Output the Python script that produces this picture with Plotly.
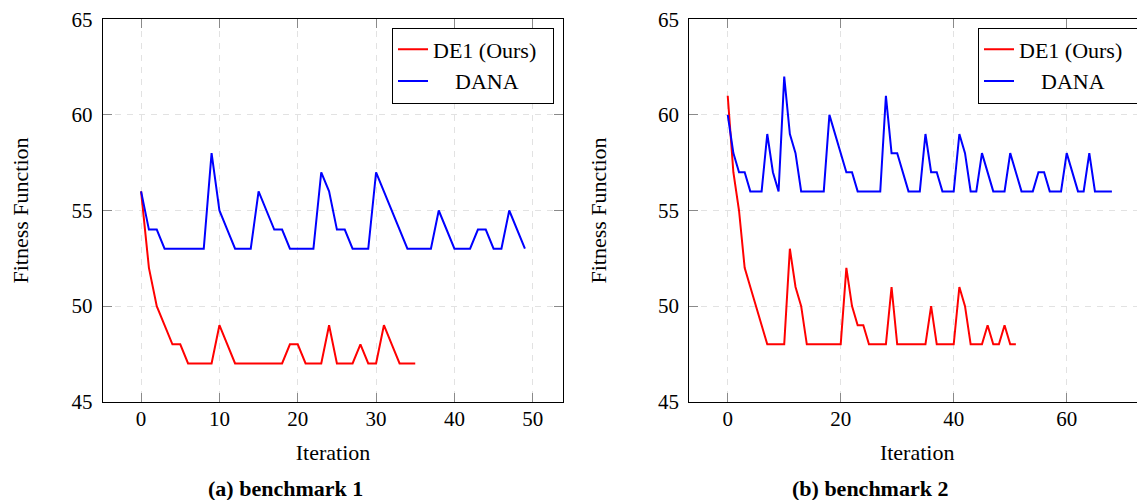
import plotly.graph_objects as go

# ---------------- data ----------------
de1_b1 = [56, 52, 50, 49, 48, 48, 47, 47, 47, 47, 49, 48, 47, 47, 47, 47, 47, 47,
          47, 48, 48, 47, 47, 47, 49, 47, 47, 47, 48, 47, 47, 49, 48, 47, 47, 47]
dana_b1 = [56, 54, 54, 53, 53, 53, 53, 53, 53, 58, 55, 54, 53, 53, 53, 56, 55, 54,
           54, 53, 53, 53, 53, 57, 56, 54, 54, 53, 53, 53, 57, 56, 55, 54, 53, 53,
           53, 53, 55, 54, 53, 53, 53, 54, 54, 53, 53, 55, 54, 53]
de1_b2 = [61, 57, 55, 52, 51, 50, 49, 48, 48, 48, 48, 53, 51, 50, 48, 48, 48, 48,
          48, 48, 48, 52, 50, 49, 49, 48, 48, 48, 48, 51, 48, 48, 48, 48, 48, 48,
          50, 48, 48, 48, 48, 51, 50, 48, 48, 48, 49, 48, 48, 49, 48, 48]
dana_b2 = [60, 58, 57, 57, 56, 56, 56, 59, 57, 56, 62, 59, 58, 56, 56, 56, 56, 56,
           60, 59, 58, 57, 57, 56, 56, 56, 56, 56, 61, 58, 58, 57, 56, 56, 56, 59,
           57, 57, 56, 56, 56, 59, 58, 56, 56, 58, 57, 56, 56, 56, 58, 57, 56, 56,
           56, 57, 57, 56, 56, 56, 58, 57, 56, 56, 58, 56, 56, 56, 56]

series_names = ["DE1 (Ours)\u00a0\u00a0", "\u00a0\u00a0\u00a0\u00a0DANA"]
series_colors = ["#ff0000", "#0000ff"]
x_ticks_b1 = [0, 10, 20, 30, 40, 50]
x_ticks_b2 = [0, 20, 40, 60]
y_ticks = [45, 50, 55, 60, 65]
captions = ["<b>(a) benchmark 1</b>", "<b>(b) benchmark 2</b>"]

# ---------------- layout helpers ----------------
OFF = 8                      # default page margin of the html body
W, H = 1145 - OFF, 500 - OFF
FONT = "Liberation Serif"
FS_TICK = 21
FS = 22


def fx(p):
    return (p - OFF) / W


def fy(p):
    return 1 - (p - OFF) / H


fig = go.Figure()

for i, (ys, ax) in enumerate([(de1_b1, "1"), (dana_b1, "1"), (de1_b2, "2"), (dana_b2, "2")]):
    k = i % 2
    fig.add_trace(go.Scatter(
        x=list(range(len(ys))), y=ys, mode="lines",
        line=dict(color=series_colors[k], width=2),
        name=series_names[k],
        xaxis="x" if ax == "1" else "x2",
        yaxis="y" if ax == "1" else "y2",
        legend="legend" if ax == "1" else "legend2",
    ))

common = dict(
    showline=True, linecolor="black", linewidth=1,
    ticks="inside", ticklen=9, tickcolor="#8a8a8a", tickwidth=1,
    showgrid=True, gridcolor="#e2e2e2", gridwidth=1, griddash="6px,6px",
    zeroline=False,
    tickfont=dict(family=FONT, size=FS_TICK, color="black"),
    automargin=False,
    ticklabeloverflow="allow",
)
xcommon = dict(common, ticklabelstandoff=-2)
ycommon = dict(common, ticklabelstandoff=5)

ydom = [fy(401.7), fy(19.3)]

fig.update_layout(
    width=W, height=H,
    margin=dict(l=0, r=0, t=0, b=0),
    paper_bgcolor="white", plot_bgcolor="white",
    font=dict(family=FONT, size=FS, color="black"),
    xaxis=dict(xcommon, domain=[fx(102.7), fx(563.3)], range=[-4.9, 53.9],
               tickvals=x_ticks_b1, mirror="ticks", anchor="y",
               title=dict(text="Iteration", standoff=14,
                          font=dict(family=FONT, size=FS))),
    yaxis=dict(ycommon, domain=ydom, range=[45, 65], tickvals=y_ticks,
               mirror="ticks", anchor="x",
               title=dict(text="Fitness Function", standoff=45,
                          font=dict(family=FONT, size=FS))),
    xaxis2=dict(xcommon, domain=[fx(689.3), 1.0], range=[-6.8, (1145 - 727.7) / 5.65],
                tickvals=x_ticks_b2, mirror="ticks", anchor="y2",
                title=dict(text="Iteration", standoff=14,
                           font=dict(family=FONT, size=FS))),
    yaxis2=dict(ycommon, domain=ydom, range=[45, 65], tickvals=y_ticks,
                mirror=False, anchor="x2",
                title=dict(text="Fitness Function", standoff=45,
                           font=dict(family=FONT, size=FS))),
    legend=dict(x=fx(554), y=fy(27.5), xanchor="right", yanchor="top",
                bgcolor="white", bordercolor="black", borderwidth=1,
                font=dict(family=FONT, size=FS), tracegroupgap=0),
    legend2=dict(x=fx(1140), y=fy(27.5), xanchor="right", yanchor="top",
                 bgcolor="white", bordercolor="black", borderwidth=1,
                 font=dict(family=FONT, size=FS), tracegroupgap=0),
    annotations=[
        dict(text=captions[0], x=fx(285), y=fy(488), xref="paper", yref="paper",
             showarrow=False, xanchor="center", yanchor="middle",
             font=dict(family=FONT, size=FS)),
        dict(text=captions[1], x=fx(870), y=fy(488), xref="paper", yref="paper",
             showarrow=False, xanchor="center", yanchor="middle",
             font=dict(family=FONT, size=FS)),
    ],
)

fig.write_html("out.html")
